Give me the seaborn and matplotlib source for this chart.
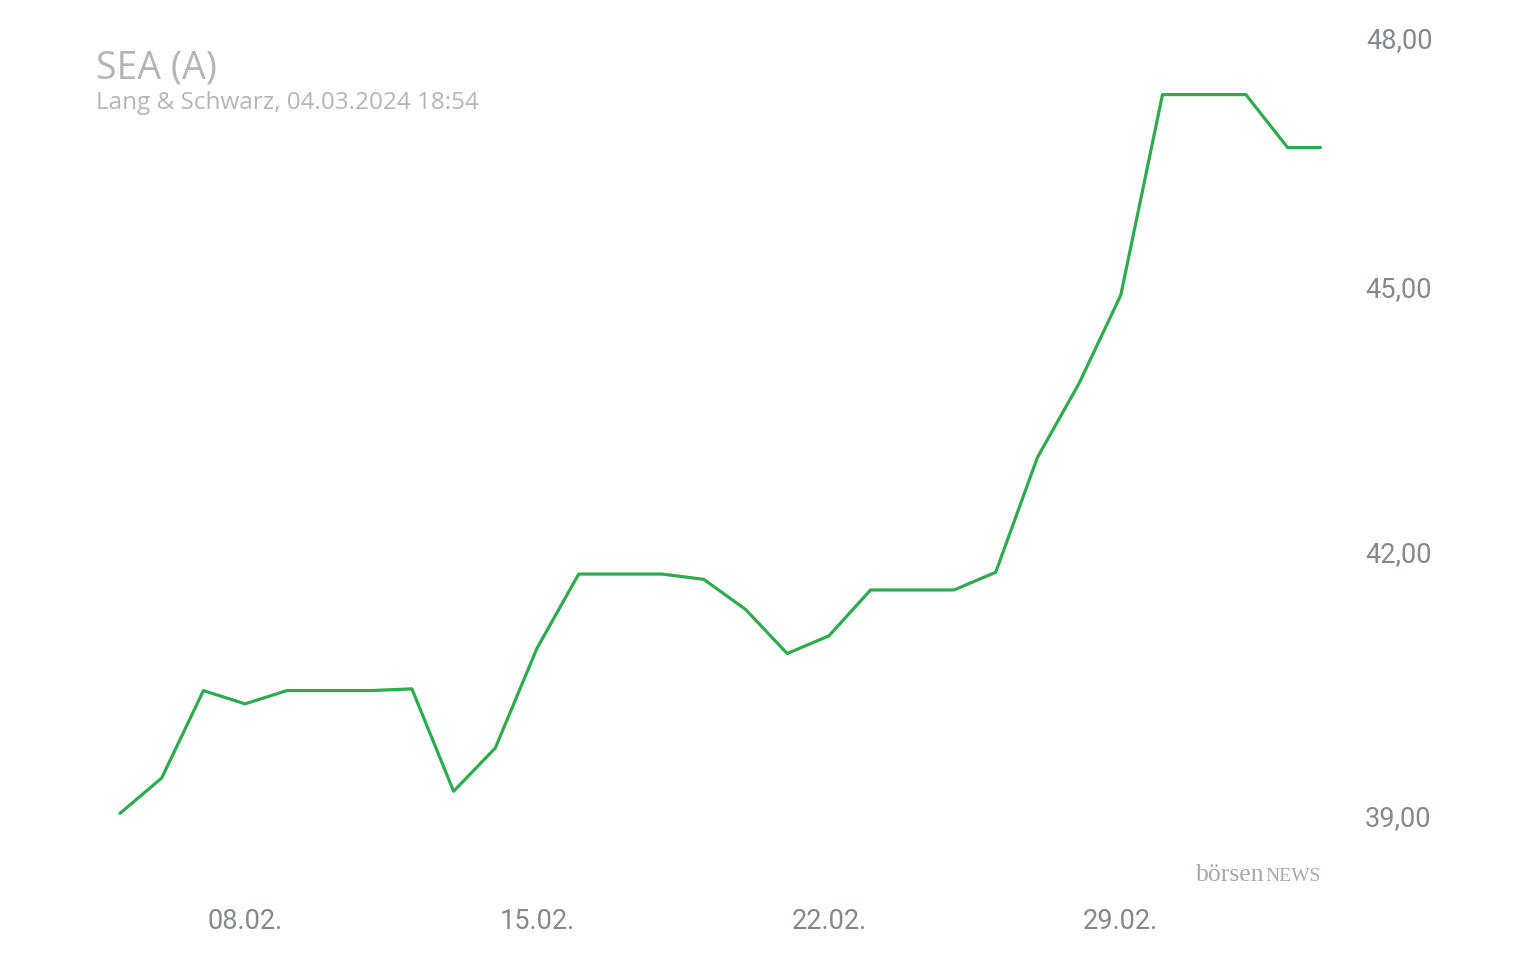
import matplotlib
matplotlib.use("Agg")
import matplotlib.pyplot as plt
import matplotlib.dates as mdates
import pandas as pd
import seaborn as sns

# ---- data ----
dates = ["2024-02-05 00:00", "2024-02-06 00:00", "2024-02-07 00:00", "2024-02-08 00:00", "2024-02-09 00:00",
         "2024-02-10 00:00", "2024-02-11 00:00", "2024-02-12 00:00", "2024-02-13 00:00", "2024-02-14 00:00",
         "2024-02-15 00:00", "2024-02-16 00:00", "2024-02-17 00:00", "2024-02-18 00:00", "2024-02-19 00:00",
         "2024-02-20 00:00", "2024-02-21 00:00", "2024-02-22 00:00", "2024-02-23 00:00", "2024-02-24 00:00",
         "2024-02-25 00:00", "2024-02-26 00:00", "2024-02-27 00:00", "2024-02-28 00:00", "2024-02-29 00:00",
         "2024-03-01 00:00", "2024-03-02 00:00", "2024-03-03 00:00", "2024-03-04 00:00", "2024-03-04 18:54"]
prices = [39.03, 39.43, 40.42, 40.27, 40.42,
          40.42, 40.42, 40.44, 39.28, 39.77,
          40.90, 41.74, 41.74, 41.74, 41.68,
          41.34, 40.84, 41.04, 41.56, 41.56,
          41.56, 41.76, 43.06, 43.90, 44.90,
          47.17, 47.17, 47.17, 46.57, 46.57]
ytick_values = [39, 42, 45, 48]
xtick_dates = ["2024-02-08", "2024-02-15", "2024-02-22", "2024-02-29"]
title = "SEA (A)"
subtitle = "Lang & Schwarz, 04.03.2024 18:54"

df = pd.DataFrame({"date": pd.to_datetime(dates, format="%Y-%m-%d %H:%M"), "price": prices})

sns.set_theme(style="white")
plt.rcParams["font.family"] = ["Roboto", "DejaVu Sans"]

W, H = 1536, 960
fig = plt.figure(figsize=(W / 100, H / 100), dpi=100)
fig.patch.set_facecolor("white")

# axes in pixel placement
px_left, px_right, px_top, px_bottom = 100, 1340, 20, 880
ax = fig.add_axes([px_left / W, 1 - px_bottom / H,
                   (px_right - px_left) / W, (px_bottom - px_top) / H])
ax.set_facecolor("white")

sns.lineplot(data=df, x="date", y="price", ax=ax, color="#2eaa4f",
             linewidth=2.3, estimator=None, sort=False)

# scales
day0 = mdates.date2num(pd.Timestamp("2024-02-05"))
px_per_day = 41.7
ax.set_xlim(day0 + (px_left - 120) / px_per_day, day0 + (px_right - 120) / px_per_day)
px_per_unit = 88.3
ax.set_ylim(39 + (816 - px_bottom) / px_per_unit, 39 + (816 - px_top) / px_per_unit)

ax.set_xticks(mdates.date2num(pd.to_datetime(xtick_dates)))
ax.xaxis.set_major_formatter(mdates.DateFormatter("%d.%m."))
ax.set_yticks(ytick_values)
ylabels = [f"{v:.2f}".replace(".", ",") for v in ytick_values]
# top label is drawn separately (kept inside the canvas, as in the original)
ax.set_yticklabels(ylabels[:-1] + [""])
ax.yaxis.tick_right()
ax.tick_params(axis="both", length=0, labelsize=19.5, colors="#85888d")
ax.tick_params(axis="x", pad=20)
ax.tick_params(axis="y", pad=18)
ax.annotate(ylabels[-1], xy=(1, ytick_values[-1]),
            xycoords=("axes fraction", "data"),
            xytext=(26, -19), textcoords="offset pixels",
            ha="left", va="center", fontsize=19.5, color="#85888d")
ax.set_xlabel("")
ax.set_ylabel("")
for s in ax.spines.values():
    s.set_visible(False)
ax.grid(False)

# title & subtitle
fig.text(96 / W, 1 - 68 / H, title, fontsize=27, color="#b4b5b8",
         family=["Open Sans", "DejaVu Sans"], va="center", ha="left")
fig.text(96 / W, 1 - 103 / H, subtitle, fontsize=17.5, color="#b4b5b8",
         family=["Open Sans", "DejaVu Sans"], va="center", ha="left")

# watermark logo text
t1 = fig.text(1196 / W, 1 - 881 / H, "börsen", fontsize=18.5, color="#a6a9ac",
              family=["Liberation Serif", "DejaVu Serif"], va="baseline", ha="left")
fig.canvas.draw()
bb = t1.get_window_extent()
fig.text(bb.x1 / W + 1 / W, 1 - 881 / H, "NEWS", fontsize=14, color="#a6a9ac",
         family=["Liberation Serif", "DejaVu Serif"], va="baseline", ha="left")

fig.savefig("out.png", dpi=100, facecolor="white")
